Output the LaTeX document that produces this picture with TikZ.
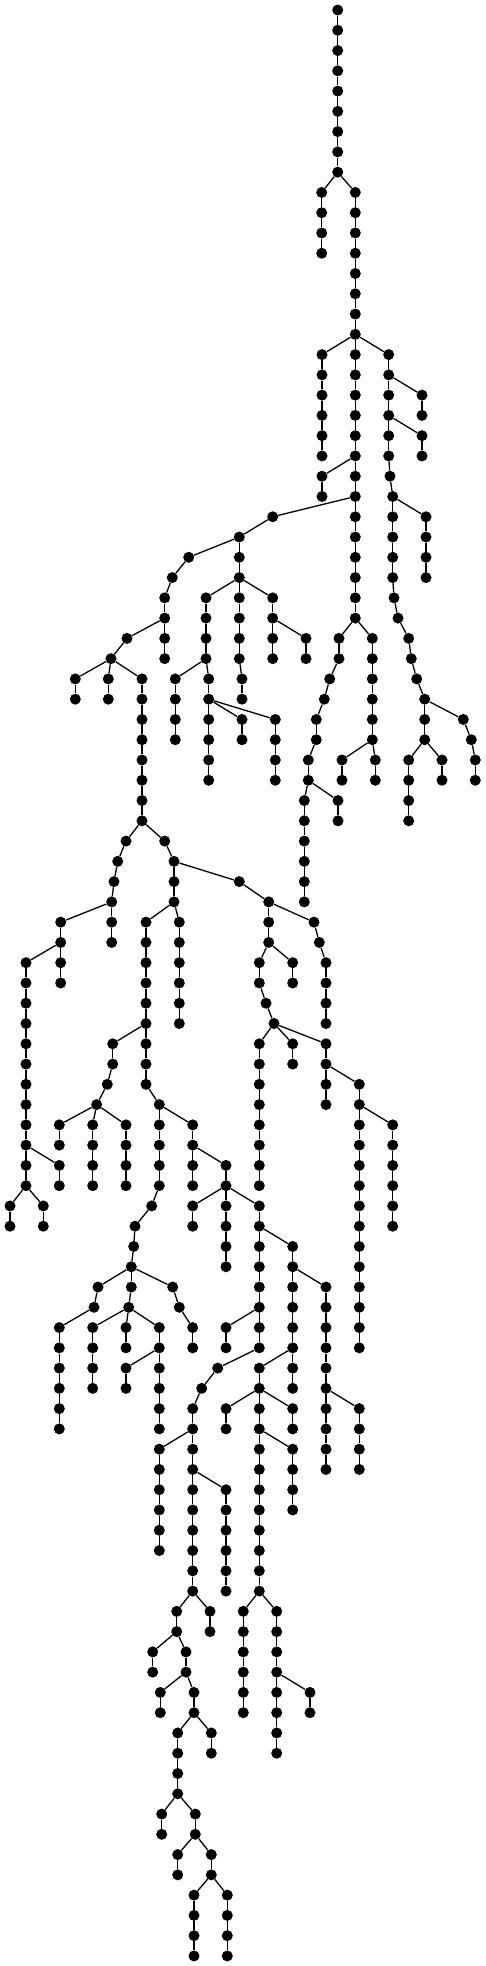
\documentclass[tikz,border=0pt]{standalone}
\tikzset{dot/.style={circle,fill=black,draw=none,inner sep=0pt,minimum size=11pt},
  edge/.style={line width=1.3pt,black}}
\newcommand\chn[4]{%
  \foreach \l in {#3,...,#4}{\node[dot] (#1-\l) at (#2,{10+20.27*\l}) {};}%
  \foreach \l in {#3,...,#4}{\ifnum\l>#3\relax\pgfmathtruncatemacro\pl{\l-1}\draw[edge] (#1-\pl) -- (#1-\l);\fi}}
\newcommand\lnk[2]{\draw[edge] (#1) -- (#2);}
\begin{document}
\begin{tikzpicture}[x=1pt,y=-1pt]
\fill[white] (0,0) rectangle (486,1966);
\useasboundingbox (0,0) rectangle (486,1966);
\chn{R}{337.7}{0}{8}
\chn{Ra}{321.7}{9}{12} \lnk{R-8}{Ra-9}
\chn{R2}{355.3}{9}{30} \lnk{R-8}{R2-9}
\chn{Q1}{322}{17}{22} \lnk{R2-16}{Q1-17}
\chn{Q2}{388.7}{17}{22} \lnk{R2-16}{Q2-17}
\chn{Q2b}{390}{23}{23} \lnk{Q2-22}{Q2b-23}
\chn{Q2c}{392.7}{24}{28} \lnk{Q2b-23}{Q2c-24}
\chn{Q2d}{394}{29}{29} \lnk{Q2c-28}{Q2d-29}
\chn{Q2e}{398}{30}{30} \lnk{Q2d-29}{Q2e-30}
\chn{Q2f}{408.7}{31}{31} \lnk{Q2e-30}{Q2f-31}
\chn{Q2g}{411.3}{32}{32} \lnk{Q2f-31}{Q2g-32}
\chn{Q2h}{416.7}{33}{33} \lnk{Q2g-32}{Q2h-33}
\chn{Q2i}{424.7}{34}{36} \lnk{Q2h-33}{Q2i-34}
\chn{Q3}{422}{19}{20} \lnk{Q2-18}{Q3-19}
\chn{Q4}{422}{21}{22} \lnk{Q2-20}{Q4-21}
\chn{Q5}{426}{25}{28} \lnk{Q2c-24}{Q5-25}
\chn{Q6}{463.3}{35}{35} \lnk{Q2i-34}{Q6-35}
\chn{Q6b}{471.3}{36}{36} \lnk{Q6-35}{Q6b-36}
\chn{Q6c}{475.3}{37}{38} \lnk{Q6b-36}{Q6c-37}
\chn{Q7}{408.7}{37}{40} \lnk{Q2i-36}{Q7-37}
\chn{Q8}{442}{37}{38} \lnk{Q2i-36}{Q8-37}
\chn{P1}{322}{23}{24} \lnk{R2-22}{P1-23}
\chn{M1}{339}{31}{32} \lnk{R2-30}{M1-31}
\chn{M1b}{329.7}{33}{33} \lnk{M1-32}{M1b-33}
\chn{M1c}{324.3}{34}{34} \lnk{M1b-33}{M1c-34}
\chn{M1d}{316.3}{35}{36} \lnk{M1c-34}{M1d-35}
\chn{M1e}{308.3}{37}{38} \lnk{M1d-36}{M1e-37}
\chn{M2}{304.3}{39}{44} \lnk{M1e-38}{M2-39}
\chn{M3}{338}{39}{40} \lnk{M1e-38}{M3-39}
\chn{M4}{372.3}{31}{36} \lnk{R2-30}{M4-31}
\chn{M5}{342}{37}{38} \lnk{M4-36}{M5-37}
\chn{M6}{375.3}{37}{38} \lnk{M4-36}{M6-37}
\chn{S1}{272.7}{25}{25} \lnk{R2-24}{S1-25}
\chn{S2}{239.3}{26}{32} \lnk{S1-25}{S2-26}
\chn{S2b}{242}{33}{34} \lnk{S2-32}{S2b-33}
\chn{S3}{188.7}{27}{27} \lnk{S2-26}{S3-27}
\chn{S4}{172.3}{28}{28} \lnk{S3-27}{S4-28}
\chn{S5}{164.7}{29}{32} \lnk{S4-28}{S5-29}
\chn{S6}{127}{31}{31} \lnk{S5-30}{S6-31}
\chn{S7}{111}{32}{32} \lnk{S6-31}{S7-32}
\chn{T1}{75.3}{33}{34} \lnk{S7-32}{T1-33}
\chn{T2}{108.3}{33}{34} \lnk{S7-32}{T2-33}
\chn{T3}{142}{33}{40} \lnk{S7-32}{T3-33}
\chn{U1}{206}{29}{32} \lnk{S2-28}{U1-29}
\chn{U2}{175.3}{33}{36} \lnk{U1-32}{U2-33}
\chn{U3}{208.7}{33}{38} \lnk{U1-32}{U3-33}
\chn{U4}{242}{35}{36} \lnk{U3-34}{U4-35}
\chn{U5}{275.3}{35}{38} \lnk{U3-34}{U5-35}
\chn{U6}{272.7}{29}{32} \lnk{S2-28}{U6-29}
\chn{U7}{306}{31}{32} \lnk{U6-30}{U7-31}
\chn{V1}{126}{41}{41} \lnk{T3-40}{V1-41}
\chn{V1b}{117.7}{42}{42} \lnk{V1-41}{V1b-42}
\chn{V1c}{114}{43}{43} \lnk{V1b-42}{V1c-43}
\chn{V1d}{111.7}{44}{46} \lnk{V1c-43}{V1d-44}
\chn{V2}{60.7}{45}{48} \lnk{V1d-44}{V2-45}
\chn{V3}{26}{47}{58} \lnk{V2-46}{V3-47}
\chn{V4}{59.3}{57}{58} \lnk{V3-56}{V4-57}
\chn{V5}{10}{59}{60} \lnk{V3-58}{V5-59}
\chn{V6}{43.3}{59}{60} \lnk{V3-58}{V6-59}
\chn{W1}{164.7}{41}{41} \lnk{T3-40}{W1-41}
\chn{W2}{174}{42}{44} \lnk{W1-41}{W2-42}
\chn{W3}{146}{45}{53} \lnk{W2-44}{W3-45}
\chn{W4}{179.3}{45}{50} \lnk{W2-44}{W4-45}
\chn{W5}{112.7}{51}{52} \lnk{W3-50}{W5-51}
\chn{W5b}{107.3}{53}{53} \lnk{W5-52}{W5b-53}
\chn{W5c}{96.7}{54}{54} \lnk{W5b-53}{W5c-54}
\chn{X1}{59.3}{55}{56} \lnk{W5c-54}{X1-55}
\chn{X2}{92.7}{55}{58} \lnk{W5c-54}{X2-55}
\chn{X3}{126}{55}{58} \lnk{W5c-54}{X3-55}
\chn{W6}{159.3}{54}{58} \lnk{W3-53}{W6-54}
\chn{W7}{151.7}{59}{59} \lnk{W6-58}{W7-59}
\chn{W7b}{135}{60}{60} \lnk{W7-59}{W7b-60}
\chn{W7c}{133.7}{61}{61} \lnk{W7b-60}{W7c-61}
\chn{W7d}{131.3}{62}{63} \lnk{W7c-61}{W7d-62}
\chn{Y1}{98}{63}{63} \lnk{W7d-62}{Y1-63}
\chn{Y1b}{94}{64}{64} \lnk{Y1-63}{Y1b-64}
\chn{Y1c}{59.3}{65}{70} \lnk{Y1b-64}{Y1c-65}
\chn{Y2}{128.7}{64}{64} \lnk{W7d-63}{Y2-64}
\chn{Y3}{92.7}{65}{68} \lnk{Y2-64}{Y3-65}
\chn{Y4}{126}{65}{66} \lnk{Y2-64}{Y4-65}
\chn{Y5}{159.3}{65}{70} \lnk{Y2-64}{Y5-65}
\chn{Y6}{126}{67}{68} \lnk{Y5-66}{Y6-67}
\chn{Y7}{172.7}{63}{63} \lnk{W7d-62}{Y7-63}
\chn{Y7b}{179.3}{64}{64} \lnk{Y7-63}{Y7b-64}
\chn{Y7c}{192.7}{65}{66} \lnk{Y7b-64}{Y7c-65}
\chn{W8}{192.7}{55}{58} \lnk{W6-54}{W8-55}
\chn{W9}{226}{57}{58} \lnk{W8-56}{W9-57}
\chn{Z1}{192.7}{59}{60} \lnk{W9-58}{Z1-59}
\chn{Z2}{226}{59}{62} \lnk{W9-58}{Z2-59}
\chn{Z3}{259.3}{59}{66} \lnk{W9-58}{Z3-59}
\chn{Z4}{292.7}{61}{68} \lnk{Z3-60}{Z4-61}
\chn{Z5}{226}{65}{66} \lnk{Z3-64}{Z5-65}
\chn{Z6}{217.7}{67}{67} \lnk{Z3-66}{Z6-67}
\chn{Z6b}{201.7}{68}{68} \lnk{Z6-67}{Z6b-68}
\chn{Z6c}{192.7}{69}{78} \lnk{Z6b-68}{Z6c-69}
\chn{Z7}{159.3}{71}{76} \lnk{Z6c-70}{Z7-71}
\chn{Z8}{226}{73}{78} \lnk{Z6c-72}{Z8-73}
\chn{Z9}{326}{63}{72} \lnk{Z4-62}{Z9-63}
\chn{Z10}{359.3}{69}{72} \lnk{Z9-68}{Z10-69}
\chn{Z11}{259.3}{67}{68} \lnk{Z4-66}{Z11-67}
\chn{Z12}{226}{69}{70} \lnk{Z11-68}{Z12-69}
\chn{Z13}{259.3}{69}{78} \lnk{Z11-68}{Z13-69}
\chn{Z14}{292.7}{69}{70} \lnk{Z11-68}{Z14-69}
\chn{Z15}{292.7}{71}{74} \lnk{Z13-70}{Z15-71}
\chn{AA1}{176.7}{79}{80} \lnk{Z6c-78}{AA1-79}
\chn{AA2}{210}{79}{80} \lnk{Z6c-78}{AA2-79}
\chn{AB1}{243.3}{79}{84} \lnk{Z13-78}{AB1-79}
\chn{AB2}{276.7}{79}{86} \lnk{Z13-78}{AB2-79}
\chn{AB3}{310}{83}{84} \lnk{AB2-82}{AB3-83}
\chn{AC1}{152.7}{81}{82} \lnk{AA1-80}{AC1-81}
\chn{AC2}{186}{81}{82} \lnk{AA1-80}{AC2-81}
\chn{AC3}{160.3}{83}{84} \lnk{AC2-82}{AC3-83}
\chn{AC4}{194}{83}{84} \lnk{AC2-82}{AC4-83}
\chn{AC5}{177.7}{85}{88} \lnk{AC4-84}{AC5-85}
\chn{AC6}{211.3}{85}{86} \lnk{AC4-84}{AC6-85}
\chn{AC7}{161.7}{89}{90} \lnk{AC5-88}{AC7-89}
\chn{AC8}{195.3}{89}{90} \lnk{AC5-88}{AC8-89}
\chn{AC9}{177.7}{91}{92} \lnk{AC8-90}{AC9-91}
\chn{AC10}{211.3}{91}{92} \lnk{AC8-90}{AC10-91}
\chn{AC11}{194}{93}{96} \lnk{AC10-92}{AC11-93}
\chn{AC12}{227.3}{93}{96} \lnk{AC10-92}{AC12-93}
\chn{W10}{239.3}{43}{43} \lnk{W2-42}{W10-43}
\chn{W11}{268.7}{44}{46} \lnk{W10-43}{W11-44}
\chn{W12}{259.3}{47}{48} \lnk{W11-46}{W12-47}
\chn{W12b}{266}{49}{49} \lnk{W12-48}{W12b-49}
\chn{W12c}{274}{50}{50} \lnk{W12b-49}{W12c-50}
\chn{WA}{259.3}{51}{58} \lnk{W12c-50}{WA-51}
\chn{WB}{292.7}{51}{52} \lnk{W12c-50}{WB-51}
\chn{WC}{326}{51}{54} \lnk{W12c-50}{WC-51}
\chn{WD}{359.3}{53}{66} \lnk{WC-52}{WD-53}
\chn{WE}{392.7}{55}{60} \lnk{WD-54}{WE-55}
\chn{W13}{292.7}{47}{48} \lnk{W11-46}{W13-47}
\chn{W14}{314}{45}{45} \lnk{W11-44}{W14-45}
\chn{W14b}{319.3}{46}{46} \lnk{W14-45}{W14b-46}
\chn{W14c}{326}{47}{50} \lnk{W14b-46}{W14c-47}
\end{tikzpicture}
\end{document}
